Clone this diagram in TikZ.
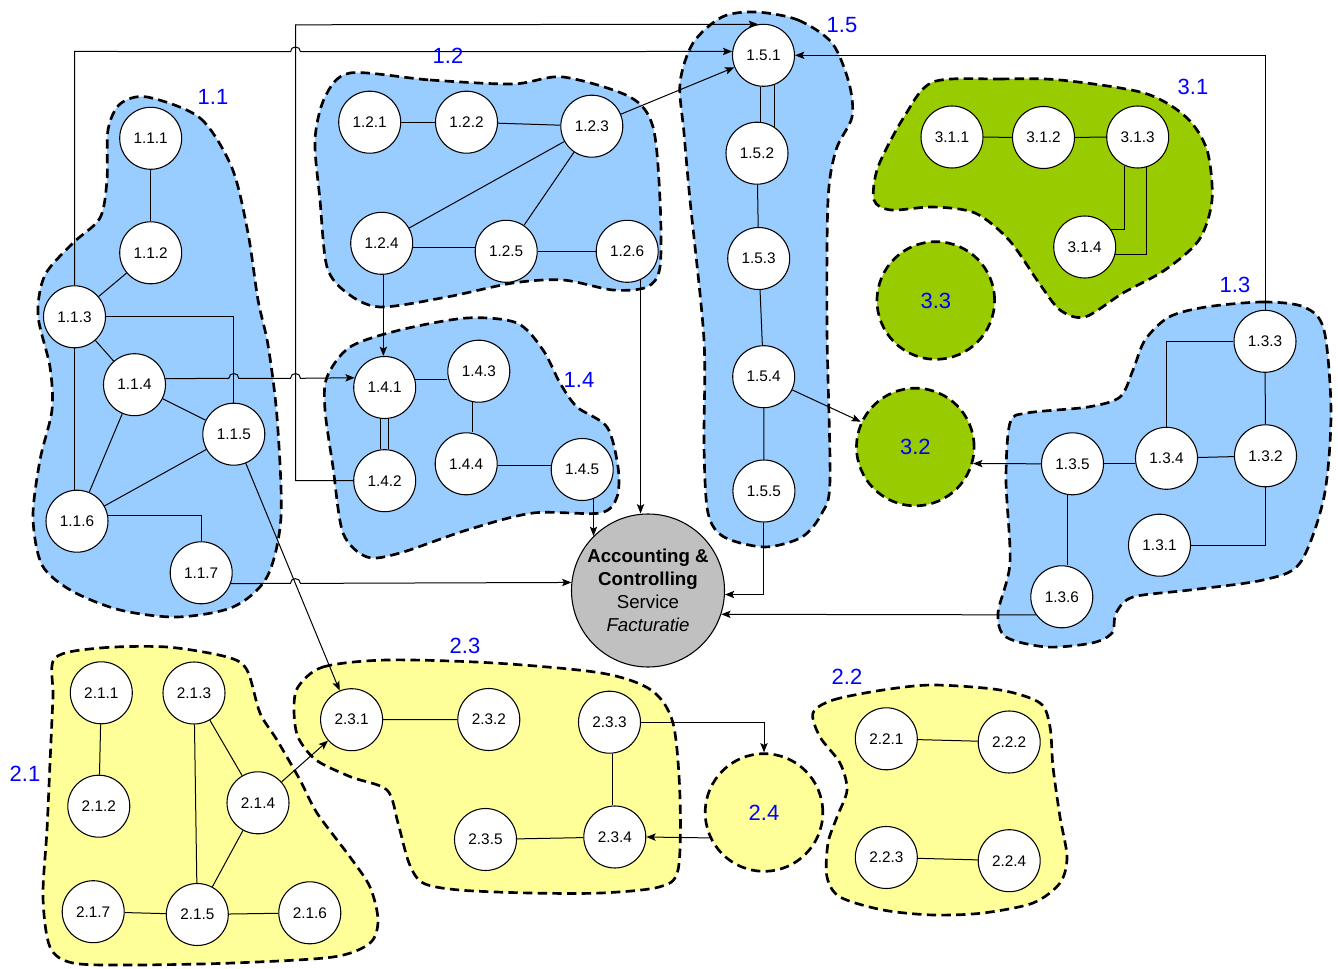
\documentclass[tikz,border=0pt]{standalone}
\usepackage{fontspec}
\setmainfont{Liberation Sans}
\usetikzlibrary{arrows.meta,calc}
\definecolor{bluef}{HTML}{99CCFF}
\definecolor{greenf}{HTML}{99CC00}
\definecolor{yellowf}{HTML}{FFFF99}
\definecolor{grayf}{HTML}{C0C0C0}
\definecolor{lblue}{HTML}{0000FF}
\pgfdeclarelayer{bg}
\pgfdeclarelayer{conns}
\pgfsetlayers{bg,conns,main}
\begin{document}
\begin{tikzpicture}[x=0.75pt,y=-0.75pt,
  nd/.style={circle,draw,fill=white,line width=0.8pt,minimum size=46.5pt,inner sep=0pt,font=\fontsize{11.5}{13}\selectfont},
  blob/.style={draw=black,line width=2pt,dash pattern=on 7pt off 4pt},
  bigc/.style={circle,draw=black,line width=2pt,dash pattern=on 7pt off 4pt,minimum size=88.2pt,inner sep=0pt,text=lblue,font=\fontsize{16.5}{19}\selectfont},
  conn/.style={line width=0.75pt},
  arr/.style={conn,-{Stealth[length=7pt,width=5.5pt,inset=1.5pt]}},
  grp/.style={text=lblue,font=\fontsize{16.5}{19}\selectfont,inner sep=0pt},
  acccirc/.style={circle,draw,fill=grayf,line width=0.8pt,minimum size=114.75pt,inner sep=0pt},
  acctext/.style={align=center,font=\fontsize{14}{17.25}\selectfont,inner sep=0pt}
]
\useasboundingbox (0,0) rectangle (1338,969);
\begin{pgfonlayer}{bg}
\fill[white] (0,0) rectangle (1338,969);
% blobs
\draw[blob,fill=bluef] plot[smooth cycle] coordinates {(147,97) (200,118) (232,168) (248,233) (258,300) (268,345) (277,417) (281,517) (267,577) (233,607) (177,617) (120,610) (72,591) (42,565) (33,517) (40,460) (52,410) (50,367) (38,315) (45,275) (73,243) (100,218) (107,180) (108,130) (120,104)};
\draw[blob,fill=bluef] plot[smooth cycle] coordinates {(350,73) (430,80) (513,84) (563,77) (630,97) (653,127) (660,200) (660,267) (647,287) (613,290) (563,280) (513,283) (447,297) (380,307) (347,293) (327,267) (320,200) (315,140) (325,97)};
\draw[blob,fill=bluef] plot[smooth cycle] coordinates {(327,377) (350,347) (400,330) (467,318) (517,323) (543,350) (560,383) (577,407) (607,427) (618,467) (617,497) (600,513) (533,513) (467,530) (400,553) (367,557) (343,533) (333,467) (325,410)};
\draw[blob,fill=bluef] plot[smooth cycle] coordinates {(756,12) (798,20) (832,43) (849,83) (852,117) (836,150) (828,200) (827,330) (830,480) (822,513) (802,537) (765,547) (724,537) (708,513) (704,447) (704,340) (690,200) (684,133) (680,83) (693,43) (722,17)};
\draw[blob,fill=greenf] plot[smooth cycle] coordinates {(933,82) (1000,79) (1060,80) (1144,93) (1186,117) (1207,150) (1212,200) (1199,240) (1165,270) (1123,293) (1085,317) (1060,310) (1039,283) (1009,240) (975,213) (933,207) (891,210) (874,200) (878,167) (904,117)};
\draw[blob,fill=bluef] plot[smooth cycle] coordinates {(1206,307) (1263,302) (1304,307) (1324,330) (1331,413) (1324,497) (1300,563) (1263,580) (1190,590) (1133,597) (1116,613) (1112,633) (1092,643) (1047,647) (1006,637) (998,613) (1010,563) (1006,480) (1010,423) (1027,413) (1088,407) (1120,397) (1133,370) (1145,340) (1169,317)};
\draw[blob,fill=yellowf] plot[smooth cycle] coordinates {(55,658) (100,648) (167,647) (227,657) (247,670) (260,713) (277,740) (300,780) (317,813) (350,857) (370,887) (378,920) (370,943) (333,957) (233,963) (133,965) (73,963) (50,947) (43,897) (47,830) (50,763) (53,697)};
\draw[blob,fill=yellowf] plot[smooth cycle] coordinates {(298,687) (323,667) (387,660) (494,663) (601,673) (651,690) (673,723) (680,797) (678,870) (659,887) (601,893) (530,893) (459,890) (423,883) (409,863) (398,823) (387,790) (351,777) (316,760) (298,737) (294,710)};
\draw[blob,fill=yellowf] plot[smooth cycle] coordinates {(813,713) (833,700) (883,690) (933,685) (1000,690) (1040,703) (1050,727) (1053,767) (1060,817) (1067,857) (1060,883) (1033,903) (983,913) (933,915) (883,910) (840,897) (827,877) (828,843) (837,817) (847,790) (840,763) (820,737)};
\end{pgfonlayer}

% group labels
\node[grp] (g11) at (213,97) {1.1};
\node[grp] (g12) at (448,56) {1.2};
\node[grp] (g15) at (842,25) {1.5};
\node[grp] (g31) at (1193,87) {3.1};
\node[grp] (g14) at (579,380) {1.4};
\node[grp] (g13) at (1235,285) {1.3};
\node[grp] (g21) at (25,774) {2.1};
\node[grp] (g23) at (465,646) {2.3};
\node[grp] (g22) at (847,677) {2.2};

% big circles
\node[bigc,fill=greenf] (c33) at (935.8,300.5) {3.3};
\node[bigc,fill=greenf] (c32) at (915.3,447) {3.2};
\node[bigc,fill=yellowf] (c24) at (764,812.5) {2.4};

% accounting
\node[acccirc] (acc) at (648,590.5) {};
\node[acctext] (acct) at (acc) {\textbf{Accounting \&}\\\textbf{Controlling}\\Service\\\textit{Facturatie}};

% nodes
\node[nd] (n111) at (150.7,138.3) {1.1.1};
\node[nd] (n112) at (150.7,252.8) {1.1.2};
\node[nd] (n113) at (74.5,316.8) {1.1.3};
\node[nd] (n114) at (134.5,384.7) {1.1.4};
\node[nd] (n115) at (233.8,434.2) {1.1.5};
\node[nd] (n116) at (77,521.2) {1.1.6};
\node[nd] (n117) at (201.2,572.8) {1.1.7};
\node[nd] (n121) at (369.7,122.2) {1.2.1};
\node[nd] (n122) at (466.5,122.2) {1.2.2};
\node[nd] (n123) at (591.8,126.2) {1.2.3};
\node[nd] (n124) at (381.7,243.3) {1.2.4};
\node[nd] (n125) at (506.2,251.3) {1.2.5};
\node[nd] (n126) at (627.2,251.3) {1.2.6};
\node[nd] (n141) at (384.7,387.5) {1.4.1};
\node[nd] (n142) at (384.7,480.7) {1.4.2};
\node[nd] (n143) at (478.8,371.2) {1.4.3};
\node[nd] (n144) at (466.2,463.8) {1.4.4};
\node[nd] (n145) at (582.2,469.5) {1.4.5};
\node[nd] (n151) at (763.5,55.3) {1.5.1};
\node[nd] (n152) at (757,153.2) {1.5.2};
\node[nd] (n153) at (758.7,258.5) {1.5.3};
\node[nd] (n154) at (763.7,376.7) {1.5.4};
\node[nd] (n155) at (763.9,491) {1.5.5};
\node[nd] (n311) at (952,137) {3.1.1};
\node[nd] (n312) at (1043.5,137.5) {3.1.2};
\node[nd] (n313) at (1137.7,137) {3.1.3};
\node[nd] (n314) at (1084.7,247) {3.1.4};
\node[nd] (n131) at (1159.5,545.2) {1.3.1};
\node[nd] (n132) at (1265.5,455.8) {1.3.2};
\node[nd] (n133) at (1265,341.3) {1.3.3};
\node[nd] (n134) at (1166.5,458.3) {1.3.4};
\node[nd] (n135) at (1072.5,463.8) {1.3.5};
\node[nd] (n136) at (1061.8,596.8) {1.3.6};
\node[nd] (n211) at (101.3,692.8) {2.1.1};
\node[nd] (n212) at (98.8,806.2) {2.1.2};
\node[nd] (n213) at (194,693) {2.1.3};
\node[nd] (n214) at (258,802.8) {2.1.4};
\node[nd] (n215) at (197.3,914.5) {2.1.5};
\node[nd] (n216) at (309.8,912.8) {2.1.6};
\node[nd] (n217) at (93.2,911.7) {2.1.7};
\node[nd] (n231) at (351.6,719.7) {2.3.1};
\node[nd] (n232) at (488.8,719.5) {2.3.2};
\node[nd] (n233) at (609.5,722.2) {2.3.3};
\node[nd] (n234) at (614.8,837) {2.3.4};
\node[nd] (n235) at (485.5,839.5) {2.3.5};
\node[nd] (n221) at (886.3,738.8) {2.2.1};
\node[nd] (n222) at (1009.2,742) {2.2.2};
\node[nd] (n223) at (886.3,857.5) {2.2.3};
\node[nd] (n224) at (1009.2,860.7) {2.2.4};

\begin{pgfonlayer}{conns}
% 1.1
\draw[conn] (n111) -- (n112);
\draw[conn] (n112) -- (n113);
\draw[conn] (n113) -- (n114);
\draw[conn] (n113.south) -- (n113.south |- n116.north);
\draw[conn] (n113.east) -| (n115.north);
\draw[conn] (n114) -- (n115);
\draw[conn] (n114) -- (n116);
\draw[conn] (n115) -- (n116);
\draw[conn] (n116.10) -| (n117.north);
\draw[arr] (n117.-20) -- (290.4,583.4) .. controls (290.4,577.1) and (300.4,577.1) .. (300.4,583.4) -- (acc.174.7);
\draw[arr] (n115) -- (n231);
\draw[arr] (n114.11.9) -- (228.8,378.3) .. controls (228.8,372) and (238.8,372) .. (238.8,378.3) -- (290.5,378.3) .. controls (290.5,372) and (300.5,372) .. (300.5,378.3) -- (n141.162.7);
\draw[arr] (n113.north) -- (n113.north |- n151.173.3) -- (290.5,51.7) .. controls (290.5,45.4) and (300.5,45.4) .. (300.5,51.7) -- (n151.173.3);
\draw[arr] (n142.west) -- (295.5,480.7) -- (295.5,24.8) -- (n151.100);
% 1.2
\draw[conn] (n121) -- (n122);
\draw[conn] (n122) -- (n123);
\draw[conn] (n123) -- (n124);
\draw[conn] (n123) -- (n125);
\draw[conn] (n124.-8.5) -- (n124.-8.5 -| n125.west);
\draw[conn] (n125) -- (n126);
\draw[arr] (n123) -- (n151);
\draw[arr] (n124.-87) -- (n124.-87 |- n141.north);
\draw[arr] (n126.-65) -- (n126.-65 |- acc.north);
% 1.4
\draw[conn] (n141.15) -- (n141.15 -| n143.west);
\draw[conn] (n141.-97) -- (n141.-97 |- n142.north);
\draw[conn] (n141.-83) -- (n141.-83 |- n142.north);
\draw[conn] (n143.-102) -- (n143.-102 |- n144.north);
\draw[conn] (n144.-4) -- (n144.-4 -| n145.west);
\draw[arr] (n145.-69) -- (n145.-69 |- acc.135.6);
% 1.5
\draw[conn] (n151.-95) -- (n151.-95 |- n152.north);
\draw[conn] (n151.-70) -- (n151.-70 |- n152.55);
\draw[conn] (n152) -- (n153);
\draw[conn] (n153) -- (n154);
\draw[conn] (n154) -- (n155);
\draw[arr] (n154) -- (c32);
\draw[arr] (n155.south) |- (acc.-3.7);
\draw[arr] (n133.north) |- (n151.east);
% 3.1
\draw[conn] (n311) -- (n312);
\draw[conn] (n312) -- (n313);
\draw[conn] (n313.-115) |- (n314.33);
\draw[conn] (n313.-73) |- (n314.-13);
% 1.3
\draw[conn] (n133) -- (n132);
\draw[conn] (n133.west) -| (n134.north);
\draw[conn] (n134) -- (n132);
\draw[conn] (n135.east) -- (n135.east -| n134.west);
\draw[arr] (n135.west) -- (c32.-16.6);
\draw[conn] (n135.-100) -- (n135.-100 |- n136.north);
\draw[conn] (n132.south) |- (n131.east);
\draw[arr] (n136.215) -- (acc.-18.4);
% 2.1
\draw[conn] (n211) -- (n212);
\draw[conn] (n213) -- (n215);
\draw[conn] (n213) -- (n214);
\draw[conn] (n214) -- (n215);
\draw[conn] (n217) -- (n215);
\draw[conn] (n215) -- (n216);
\draw[arr] (n214) -- (n231);
% 2.3
\draw[conn] (n231) -- (n232);
\draw[conn] (n233.-85) -- (n233.-85 |- n234.north);
\draw[conn] (n235) -- (n234);
\draw[arr] (n233.east) -| (c24.north);
\draw[arr] (c24.-155.4) -- (n234.east);
% 2.2
\draw[conn] (n221) -- (n222);
\draw[conn] (n223) -- (n224);
\end{pgfonlayer}
\end{tikzpicture}
\end{document}
